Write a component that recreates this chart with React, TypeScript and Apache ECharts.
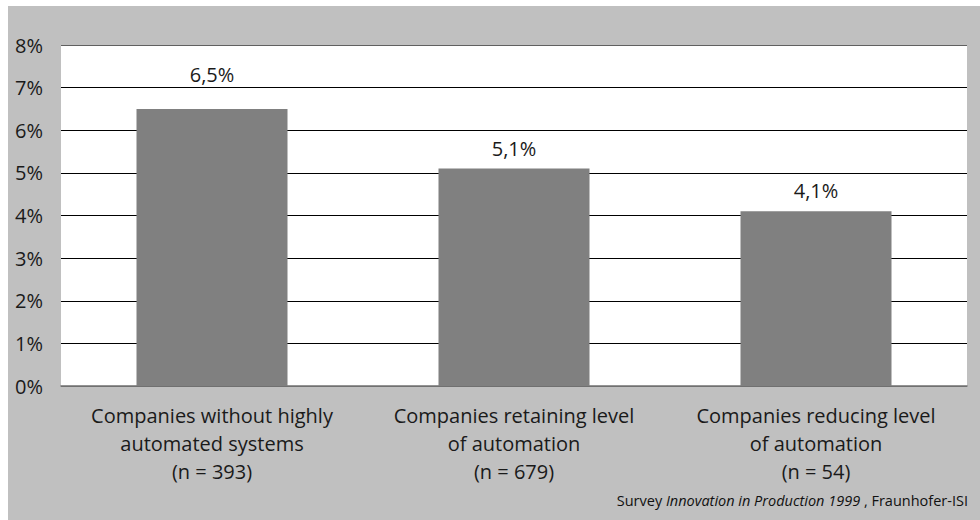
import React, { useEffect, useRef } from "react";
import * as echarts from "echarts";

const categories = [
  "Companies without highly\nautomated systems\n(n = 393)",
  "Companies retaining level\nof automation\n(n = 679)",
  "Companies reducing level\nof automation\n(n = 54)",
];
const values = [6.5, 5.1, 4.1];
const yTicks = [0, 1, 2, 3, 4, 5, 6, 7, 8];

const FONT = "'Open Sans', sans-serif";
const LABEL_GAPS = [24, 10, 11];

export default function App() {
  const ref = useRef<HTMLDivElement>(null);
  useEffect(() => {
    if (!ref.current) return;
    const chart = echarts.init(ref.current, undefined, { renderer: "svg" });
    chart.setOption({
      animation: false,
      backgroundColor: "#ffffff",
      graphic: [
        { type: "rect", silent: true, z: -10, shape: { x: 8, y: 6, width: 972, height: 514 }, style: { fill: "#c0c0c0" } },
        { type: "rect", silent: true, z: -9, shape: { x: 61, y: 45, width: 906, height: 341 }, style: { fill: "#ffffff" } },
        {
          type: "text",
          right: 12,
          top: 493,
          style: {
            rich: {
              n: { fontFamily: FONT, fontSize: 14.5, fill: "#111" },
              i: { fontFamily: FONT, fontSize: 14.5, fontStyle: "italic", fill: "#111" },
            },
            text: "{n|Survey }{i|Innovation in Production 1999}{n| , Fraunhofer-ISI}",
          },
        },
      ],
      grid: { left: 61, right: 13, top: 45, bottom: 134, containLabel: false },
      xAxis: {
        type: "category",
        data: categories,
        axisLine: { show: true, lineStyle: { color: "#707070", width: 1.5 } },
        axisTick: { show: false },
        axisLabel: {
          interval: 0,
          margin: 15,
          fontFamily: FONT,
          fontSize: 20,
          lineHeight: 28,
          color: "#1a1a1a",
          align: "center",
        },
      },
      yAxis: {
        type: "value",
        min: 0,
        max: yTicks[yTicks.length - 1],
        interval: 1,
        axisLine: { show: false },
        axisTick: { show: false },
        axisLabel: {
          margin: 18,
          fontFamily: FONT,
          fontSize: 20,
          color: "#1a1a1a",
          formatter: (v: number) => `${v}%`,
        },
        splitLine: {
          show: true,
          lineStyle: {
            color: ["#707070", "#000", "#000", "#000", "#000", "#000", "#000", "#000", "#606060"],
            width: 1,
          },
        },
      },
      series: [
        {
          type: "bar",
          data: values.map((v, i) => ({ value: v, label: { distance: LABEL_GAPS[i] } })),
          barWidth: "50%",
          itemStyle: { color: "#808080" },
          label: {
            show: true,
            position: "top",
            fontFamily: FONT,
            fontSize: 20,
            color: "#1a1a1a",
            formatter: (p: any) => `${String(p.value).replace(".", ",")}%`,
          },
        },
      ],
    });
    return () => chart.dispose();
  }, []);
  return <div ref={ref} style={{ position: "fixed", left: 0, top: 0, width: 980, height: 520 }} />;
}
